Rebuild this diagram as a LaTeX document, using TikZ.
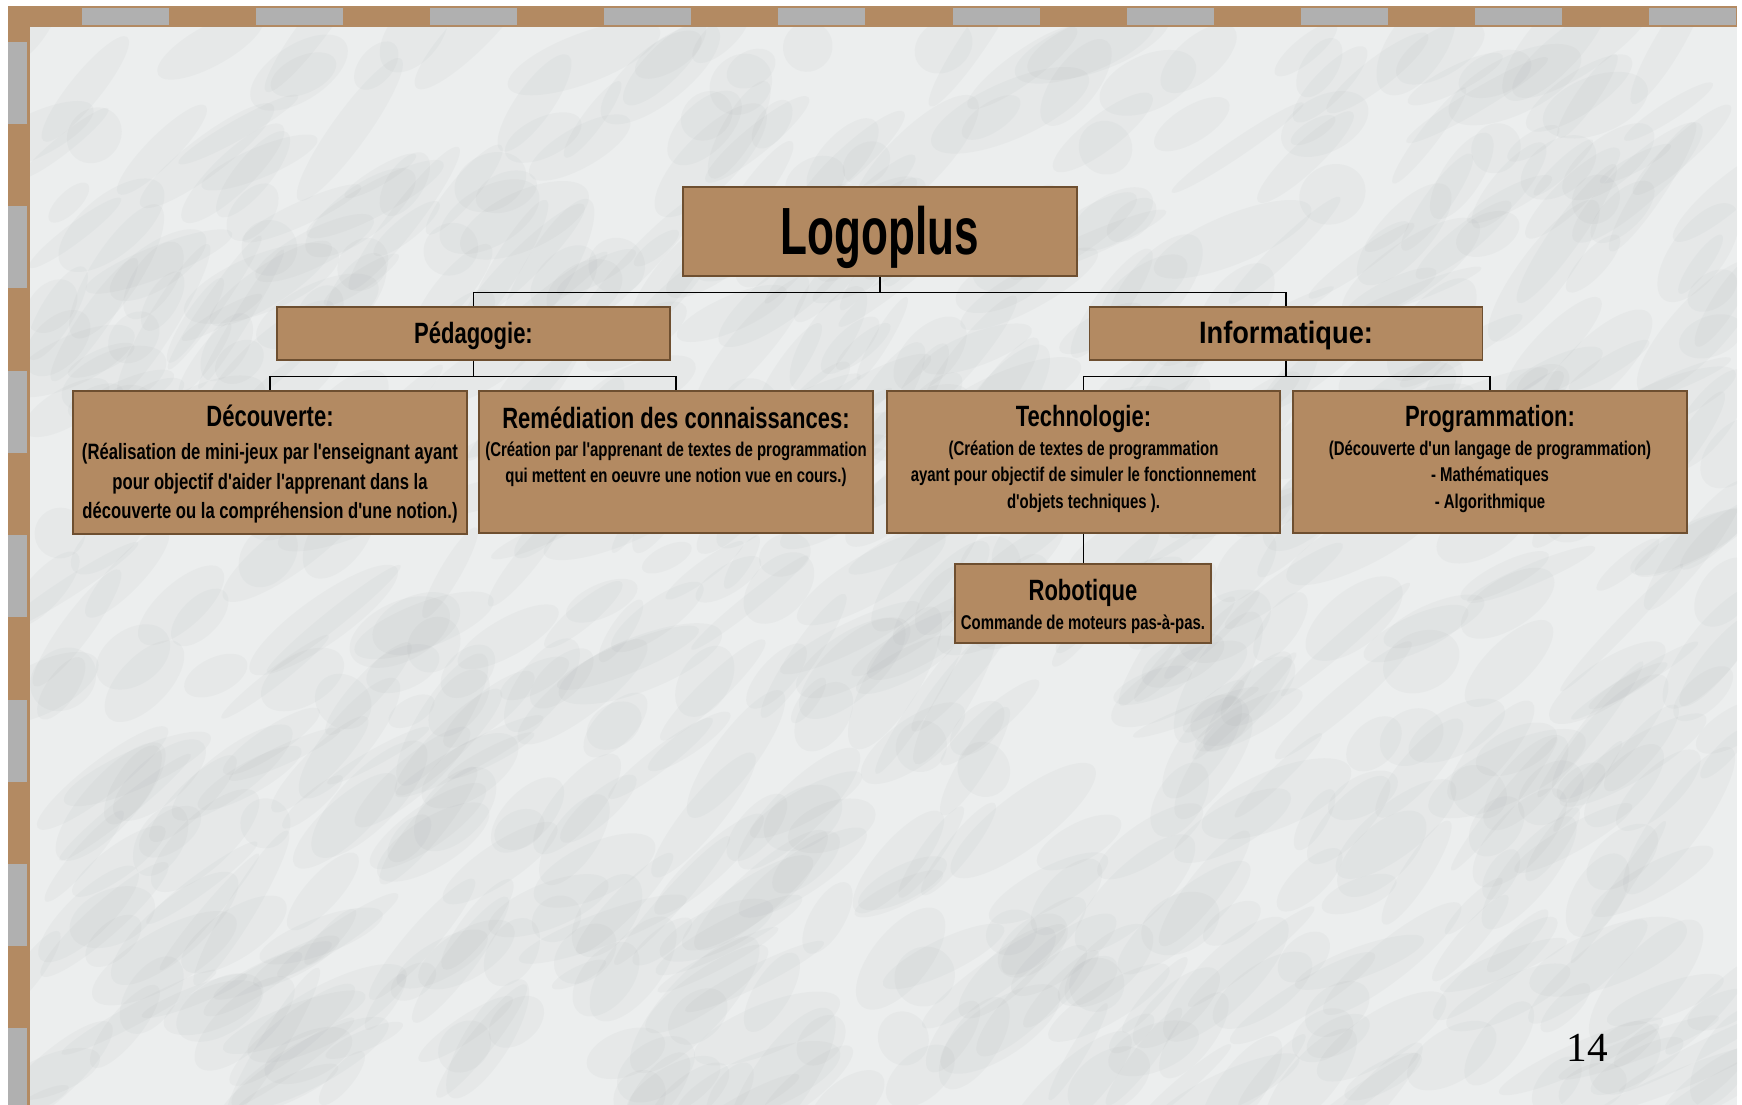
\documentclass[tikz,border=0pt]{standalone}
\usepackage{fontspec}
\setmainfont{Liberation Serif}
\newfontfamily\chartfont[FakeStretch=0.75,Ligatures=TeXOff]{Liberation Sans}
\newfontfamily\widefont[FakeStretch=0.88,Ligatures=TeXOff]{Liberation Sans}
\newfontfamily\logofont[FakeStretch=0.66]{Liberation Sans}
\usetikzlibrary{positioning}
\definecolor{boxbrown}{HTML}{B38A62}
\definecolor{edgebrown}{HTML}{6E4F30}
\definecolor{framegray}{HTML}{B0B0B0}
\definecolor{marble}{HTML}{ECEEEE}
\definecolor{vein}{HTML}{8E9496}
\tikzset{
  orgbox/.style={draw=edgebrown,fill=boxbrown,line width=0.85pt,inner sep=0pt},
  heading/.style={font=\chartfont\bfseries\fontsize{16.7}{20}\selectfont,inner sep=0pt,anchor=base},
  detail/.style={font=\chartfont\bfseries\fontsize{11.34}{15.1}\selectfont,inner sep=0pt,anchor=base,text width=8cm,align=flush center},
  link/.style={line width=0.75pt}
}
\begin{document}
\begin{tikzpicture}[x=0.02cm,y=-0.02cm]
\useasboundingbox (0,0) rectangle (1742,1105);
% frame
\fill[boxbrown] (8,6) rectangle (1737,27);
\fill[boxbrown] (8,6) rectangle (30,1105);
\foreach \k in {0,...,9}
  \fill[framegray] ({82+174.1*\k},8) rectangle ++(87,17);
\foreach \k in {0,...,6}
  \fill[framegray] (8,{42+164.4*\k}) rectangle ++(19,82);
% marble
\fill[marble] (30,27) rectangle (1737,1105);
\begin{scope}
\clip (30,27) rectangle (1737,1105);
\pgfmathsetseed{11}
\foreach \i in {1,...,750}{
  \pgfmathsetmacro\mx{30+1707*rnd}
  \pgfmathsetmacro\my{27+1078*rnd}
  \pgfmathsetmacro\ml{25+65*rnd}
  \pgfmathsetmacro\mw{8+22*rnd}
  \pgfmathsetmacro\ma{20+40*rnd}
  \fill[vein,opacity=0.06,rotate around={\ma:(\mx,\my)}] (\mx,\my) ellipse ({\ml} and {\mw});
}
\end{scope}

% boxes
\node[orgbox,minimum width=7.88cm,minimum height=1.78cm] (logo) at (880,231.5) {};
\node[anchor=base,inner sep=0pt,font=\logofont\bfseries\fontsize{38}{40}\selectfont] (logot) at ([yshift=-1.36cm]logo.north) {Logoplus};

\node[orgbox,minimum width=7.86cm,minimum height=1.06cm] (ped) at (473.5,333.5) {};
\node[heading] (pedt) at ([yshift=-0.74cm]ped.north) {Pédagogie:};
\node[orgbox,minimum width=7.86cm,minimum height=1.06cm] (info) at (1286,333.5) {};
\node[heading,font=\widefont\bfseries\fontsize{17.6}{20}\selectfont] (infot) at ([yshift=-0.75cm]info.north) {Informatique:};

\node[orgbox,minimum width=7.88cm,minimum height=2.86cm] (dec) at (270,462.5) {};
\node[heading] (dect) at ([yshift=-0.73cm]dec.north) {Découverte:};
\node[detail,font=\chartfont\bfseries\fontsize{12.64}{17}\selectfont] (decd) at ([yshift=-1.38cm]dec.north)
  {(Réalisation de mini-jeux par l'enseignant ayant\\pour objectif d'aider l'apprenant dans la\\découverte ou la compréhension d'une notion.)};

\node[orgbox,minimum width=7.88cm,minimum height=2.84cm] (rem) at (676,462) {};
\node[heading] (remt) at ([yshift=-0.76cm]rem.north) {Remédiation des connaissances:};
\node[detail] (remd) at ([yshift=-1.32cm]rem.north)
  {(Création par l'apprenant de textes de programmation\\qui mettent en oeuvre une notion vue en cours.)};

\node[orgbox,minimum width=7.86cm,minimum height=2.84cm] (tech) at (1083.5,462) {};
\node[heading] (techt) at ([yshift=-0.73cm]tech.north) {Technologie:};
\node[detail] (techd) at ([yshift=-1.30cm]tech.north)
  {(Création de textes de programmation\\ayant pour objectif de simuler le fonctionnement\\d'objets techniques ).};

\node[orgbox,minimum width=7.88cm,minimum height=2.84cm] (prog) at (1490,462) {};
\node[heading] (progt) at ([yshift=-0.72cm]prog.north) {Programmation:};
\node[detail] (progd) at ([yshift=-1.30cm]prog.north)
  {(Découverte d'un langage de programmation)\\- Mathématiques\\- Algorithmique};

\node[orgbox,minimum width=5.12cm,minimum height=1.58cm] (robo) at (1083,603.5) {};
\node[heading] (robot) at ([yshift=-0.74cm]robo.north) {Robotique};
\node[detail] (robod) at ([yshift=-1.32cm]robo.north) {Commande de moteurs pas-à-pas.};

% links
\draw[link] (logo.south) -- ++(0,16) coordinate (bus) -| (ped.north);
\draw[link] (bus) -| (info.north);
\draw[link] (ped.south) -- ++(0,16) coordinate (pedbus) -| (dec.north);
\draw[link] (pedbus) -| (rem.north);
\draw[link] (info.south) -- ++(0,16) coordinate (infobus) -| (tech.north);
\draw[link] (infobus) -| (prog.north);
\draw[link] (tech.south) -- (tech.south |- robo.north);

\node[anchor=base,inner sep=0pt,font=\fontsize{23.5}{26}\selectfont] (pagenum) at (1587,1061) {14};
\end{tikzpicture}
\end{document}
